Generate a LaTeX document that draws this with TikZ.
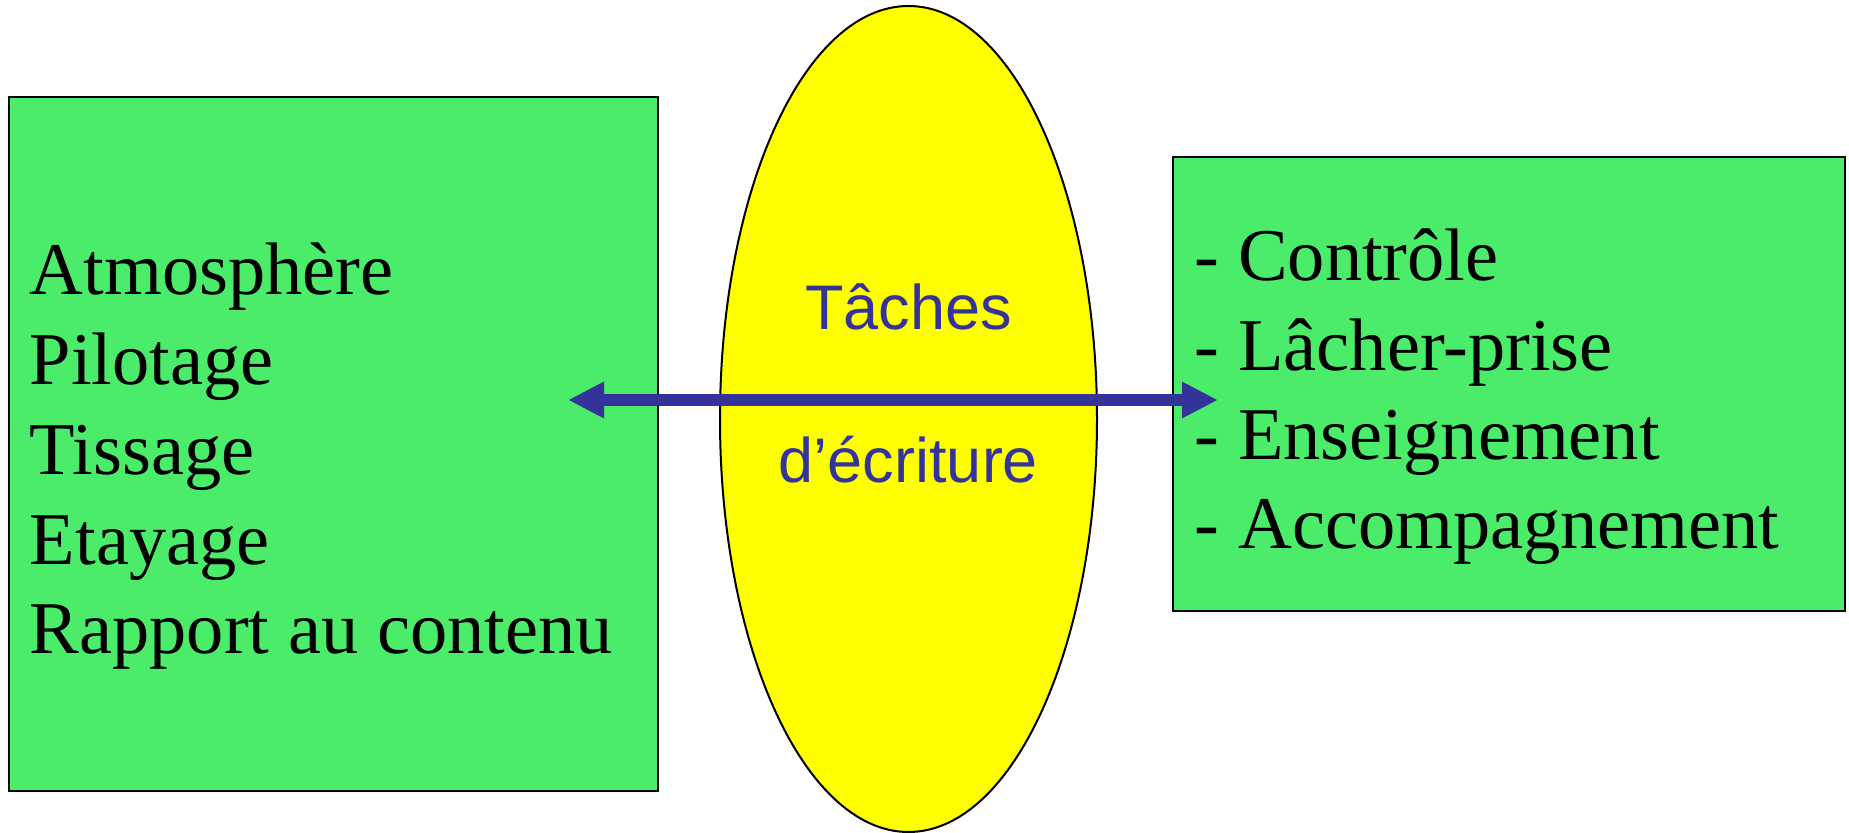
\documentclass[tikz,border=0pt]{standalone}
\usepackage{fontspec}
\setmainfont{Liberation Serif}
\newfontfamily\arialfont{Liberation Sans}
\usetikzlibrary{shapes.geometric,arrows.meta}
\definecolor{boxgreen}{RGB}{74,236,106}
\definecolor{ovalyellow}{RGB}{255,255,0}
\definecolor{arrowblue}{RGB}{51,51,153}
\begin{document}
\begin{tikzpicture}[x=0.5pt,y=-0.5pt,
  box/.style={draw=black,line width=1pt,fill=boxgreen,inner sep=0pt,rectangle},
  oval/.style={draw=black,line width=1pt,fill=ovalyellow,inner sep=0pt,ellipse},
  item/.style={anchor=base west,inner sep=0pt,font=\fontsize{37.2pt}{44pt}\selectfont},
  midtext/.style={anchor=base,inner sep=0pt,text=arrowblue,font=\arialfont\fontsize{31.5pt}{38pt}\selectfont},
  link/.style={draw=arrowblue,line width=6pt,{Triangle[length=18pt,width=17pt]}-{Triangle[length=18pt,width=17pt]}}]
\useasboundingbox (0,0) rectangle (1849,833);
% boxes and ellipse
\node[box,minimum width=324.5pt,minimum height=347pt] (L) at (333.5,444) {};
\node[oval,minimum width=188.5pt,minimum height=413pt] (E) at (908.5,419) {};
\node[box,minimum width=336pt,minimum height=227pt] (R) at (1509,384) {};
% left texts
\node[item] (l1) at (29.5,295) {Atmosphère};
\node[item] (l2) at (29.5,385) {Pilotage};
\node[item] (l3) at (29.5,475) {Tissage};
\node[item] (l4) at (29.5,565) {Etayage};
\node[item] (l5) at (29.5,654) {Rapport au contenu};
% right texts
\node[item] (r1) at (1194.5,281) {- Contrôle};
\node[item] (r2) at (1194.5,371) {- Lâcher-prise};
\node[item] (r3) at (1194.5,460) {- Enseignement};
\node[item] (r4) at (1194.5,549) {- Accompagnement};
% center texts
\node[midtext] (c1) at (908.5,330) {Tâches};
\node[midtext] (c2) at (908.5,483) {d’écriture};
% arrow
\coordinate (la) at (568,400);
\coordinate (ra) at (1218,400);
\draw[link] (la) -- (ra);
\end{tikzpicture}
\end{document}
